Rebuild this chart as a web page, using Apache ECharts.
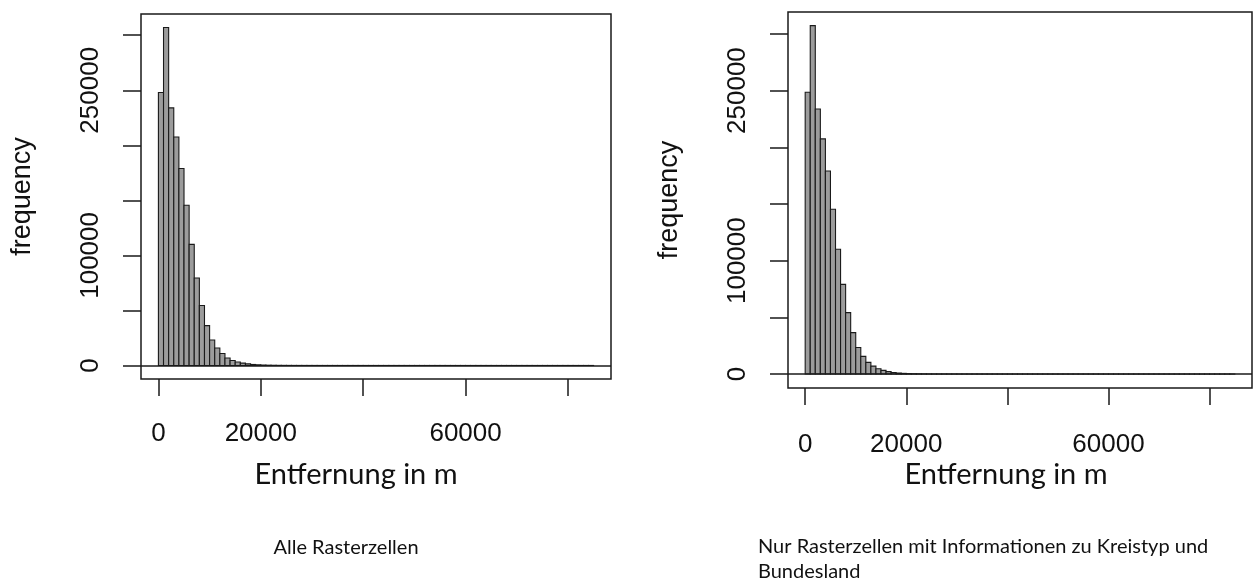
<!DOCTYPE html>
<html>
<head>
<meta charset="utf-8">
<script src="https://cdn.jsdelivr.net/npm/echarts@6/dist/echarts.min.js"></script>
<style>
html,body{margin:0;padding:0;background:#fff;}
#chart{width:1254px;height:582px;}
</style>
</head>
<body>
<div id="chart"></div>
<script>
// ---- data ----
const binWidth = 1000; // histogram bin width in m
const countsAll = [
  248000, 307000, 234000, 207500, 179000, 145500, 110000, 79500, 54500, 36200,
  23100, 15800, 10800, 6800, 4500, 3200, 2100, 1400, 900, 600,
  380, 250, 170, 110, 80, 55, 40, 30, 22, 16,
  12, 9, 7, 6, 5, 4, 4, 3, 3, 3,
  2, 2, 2, 2, 2, 1, 1, 1, 1, 1,
  1, 1, 1, 1, 1, 1, 1, 1, 1, 1,
  1, 1, 1, 1, 1, 1, 1, 1, 1, 1,
  1, 1, 1, 1, 1, 1, 1, 1, 1, 1,
  1, 1, 1, 1, 1
];
const countsSubset = [
  248500, 307300, 233800, 207400, 179100, 145300, 110000, 79100, 54200, 36500,
  23400, 15600, 10300, 7000, 4700, 3200, 2100, 1400, 900, 600,
  380, 250, 170, 110, 80, 55, 40, 30, 22, 16,
  12, 9, 7, 6, 5, 4, 4, 3, 3, 3,
  2, 2, 2, 2, 2, 1, 1, 1, 1, 1,
  1, 1, 1, 1, 1, 1, 1, 1, 1, 1,
  1, 1, 1, 1, 1, 1, 1, 1, 1, 1,
  1, 1, 1, 1, 1, 1, 1, 1, 1, 1,
  1, 1, 1, 1, 1
];
const xTicks = [0, 20000, 40000, 60000, 80000];
const xTickLabels = [0, 20000, 60000];
const yTicks = [0, 50000, 100000, 150000, 200000, 250000, 300000];
const yTickLabels = [0, 100000, 250000];
const xAxisTitle = 'Entfernung in m';
const yAxisTitle = 'frequency';
const captionLeft = 'Alle Rasterzellen';
const captionRight = ['Nur Rasterzellen mit Informationen zu Kreistyp und', 'Bundesland'];

// ---- build ----
function toBins(counts){
  return counts.map((c, i) => [i * binWidth, (i + 1) * binWidth, c]);
}
const AXFONT = "'Liberation Sans', Arial, Helvetica, sans-serif";
const CAPFONT = "Lato, 'Open Sans', sans-serif";
const ink = '#1a1a1a';

function renderBar(params, api){
  const p0 = api.coord([api.value(0), api.value(2)]);
  const p1 = api.coord([api.value(1), 0]);
  return {
    type: 'rect',
    shape: {x: p0[0], y: p0[1], width: p1[0] - p0[0], height: p1[1] - p0[1]},
    style: {fill: '#9c9c9c', stroke: ink, lineWidth: 1.1}
  };
}

function xAxisDef(gi, margin){
  return {
    gridIndex: gi, type: 'value', min: -3400, max: 88400, position: 'bottom',
    axisLine: {show: false, onZero: false}, splitLine: {show: false},
    axisTick: {show: true, inside: false, length: 17, customValues: xTicks,
               lineStyle: {color: ink, width: 1.5}},
    axisLabel: {customValues: xTickLabels, formatter: v => String(v), margin: margin,
                fontFamily: AXFONT, fontSize: 26, color: '#111'}
  };
}
function yAxisDef(gi){
  return {
    gridIndex: gi, type: 'value', min: -12300, max: 319300, position: 'left',
    axisLine: {show: false, onZero: false}, splitLine: {show: false},
    axisTick: {show: true, inside: false, length: 18, customValues: yTicks,
               lineStyle: {color: ink, width: 1.5}},
    axisLabel: {customValues: yTickLabels, formatter: v => String(v), rotate: 90, margin: 37,
                fontFamily: AXFONT, fontSize: 26, color: '#111'},
    name: yAxisTitle, nameLocation: 'middle', nameGap: 105, nameRotate: 90,
    nameTextStyle: {fontFamily: AXFONT, fontSize: 27, color: '#111'}
  };
}
function seriesDef(gi, counts){
  return {
    type: 'custom', xAxisIndex: gi, yAxisIndex: gi,
    renderItem: renderBar, data: toBins(counts), silent: true,
    markLine: {silent: true, symbol: 'none', label: {show: false},
               lineStyle: {color: ink, width: 1.5, type: 'solid'},
               data: [{yAxis: 0}]}
  };
}

const chart = echarts.init(document.getElementById('chart'), null, {renderer: 'canvas'});
chart.setOption({
  animation: false,
  backgroundColor: '#fff',
  grid: [
    {left: 141, top: 14, width: 470, height: 365, show: true, borderColor: ink, borderWidth: 1.5, containLabel: false},
    {left: 788, top: 12, width: 464, height: 376, show: true, borderColor: ink, borderWidth: 1.5, containLabel: false}
  ],
  xAxis: [xAxisDef(0, 42), xAxisDef(1, 44)],
  yAxis: [yAxisDef(0), yAxisDef(1)],
  series: [seriesDef(0, countsAll), seriesDef(1, countsSubset)],
  graphic: [
    {type: 'text', x: 356, y: 475, style: {text: xAxisTitle, font: "29px " + CAPFONT, fill: '#111', align: 'center', verticalAlign: 'middle'}},
    {type: 'text', x: 1006, y: 475, style: {text: xAxisTitle, font: "29px " + CAPFONT, fill: '#111', align: 'center', verticalAlign: 'middle'}},
    {type: 'text', x: 346, y: 548, style: {text: captionLeft, font: "20px " + CAPFONT, fill: '#111', align: 'center', verticalAlign: 'middle'}},
    {type: 'text', x: 758, y: 547, style: {text: captionRight[0], font: "20px " + CAPFONT, fill: '#111', align: 'left', verticalAlign: 'middle'}},
    {type: 'text', x: 758, y: 572, style: {text: captionRight[1], font: "20px " + CAPFONT, fill: '#111', align: 'left', verticalAlign: 'middle'}}
  ]
});
</script>
</body>
</html>
